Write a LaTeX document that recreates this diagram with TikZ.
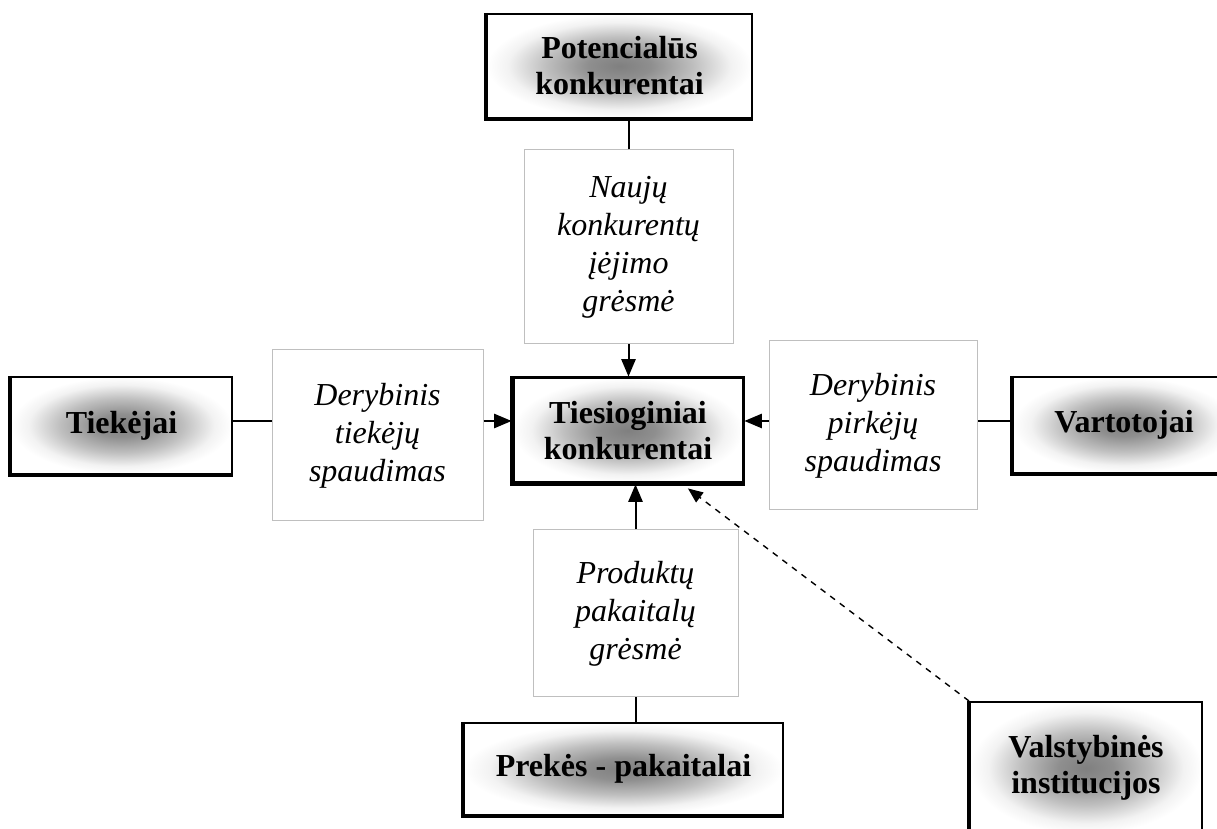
\documentclass[tikz,border=0pt]{standalone}
\usepackage{fontspec}
\setmainfont{Liberation Serif}
\usetikzlibrary{arrows}

\pgfdeclareradialshading{glow}{\pgfpointorigin}{color(0bp)=(black!50); color(6bp)=(black!44); color(14bp)=(black!25); color(21bp)=(black!5); color(25bp)=(white); color(50bp)=(white)}

\begin{document}
\begin{tikzpicture}[x=0.5pt,y=0.5pt,
	jega/.style={draw, line width=1pt, shading=glow, align=center, inner sep=0pt,
		font=\bfseries\fontsize{16}{18}\selectfont},
	veiksnys/.style={draw=black!25, line width=0.5pt, fill=white, align=center, inner sep=0pt,
		font=\itshape\fontsize{16}{19}\selectfont},
	jungtis/.style={line width=1pt},
	rodykle/.style={line width=1pt, -triangle 45}]
	\useasboundingbox (0,0) rectangle (1217,829);
	\clip (0,0) rectangle (1217,829);
		\node[jega, minimum width=132.5pt, minimum height=52pt] (pot) at (619.5,763) {Potencialūs\\konkurentai};
		\node[jega, line width=1.5pt, minimum width=115pt, minimum height=52.5pt] (tiesiog) at (628,398.5) {Tiesioginiai\\konkurentai};
		\node[jega, minimum width=110.5pt, minimum height=48.5pt] (tiek) at (121.5,403.5) {Tiekėjai};
		\node[jega, minimum width=111pt, minimum height=48pt] (vart) at (1124,404) {Vartotojai};
		\node[jega, minimum width=159.5pt, minimum height=46pt] (prekes) at (623.5,60) {Prekės - pakaitalai};
		\node[jega, minimum width=116pt, minimum height=66pt] (valst) at (1086,61) {Valstybinės\\institucijos};
		\node[veiksnys, minimum width=104.5pt, minimum height=97pt] (naujas) at (628.5,582) {Naujų\\konkurentų\\įėjimo\\grėsmė};
		\node[veiksnys, minimum width=105.5pt, minimum height=85.5pt] (dertiek) at (377.5,393.5) {Derybinis\\tiekėjų\\spaudimas};
		\node[veiksnys, minimum width=104pt, minimum height=84.5pt] (derpirk) at (873,403.5) {Derybinis\\pirkėjų\\spaudimas};
		\node[veiksnys, minimum width=102.5pt, minimum height=83.5pt] (produkt) at (635.5,215.5) {Produktų\\pakaitalų\\grėsmė};
	%	sesėlis kairėje ir apačioje
		\foreach \n in {pot,tiesiog,tiek,vart,prekes,valst}
			\draw[line width=2pt] (\n.north west) -- (\n.south west) -- (\n.south east);
		\coordinate (lyg) at (0,408);
		\draw[jungtis] (naujas.north) -- (naujas.north |- pot.south);
		\draw[rodykle] (naujas.south) -- (naujas.south |- tiesiog.north);
		\draw[jungtis] (tiek.east |- lyg) -- (dertiek.west |- lyg);
		\draw[rodykle] (dertiek.east |- lyg) -- (tiesiog.west |- lyg);
		\draw[jungtis] (vart.west |- lyg) -- (derpirk.east |- lyg);
		\draw[rodykle] (derpirk.west |- lyg) -- (tiesiog.east |- lyg);
		\draw[rodykle] (produkt.north) -- (produkt.north |- tiesiog.south);
		\draw[jungtis] (produkt.south) -- (produkt.south |- prekes.north);
		\draw[line width=0.7pt, dashed, -triangle 45] (valst.north west) -- ([yshift=-2pt]tiesiog.-42);
	\end{tikzpicture}
\end{document}
